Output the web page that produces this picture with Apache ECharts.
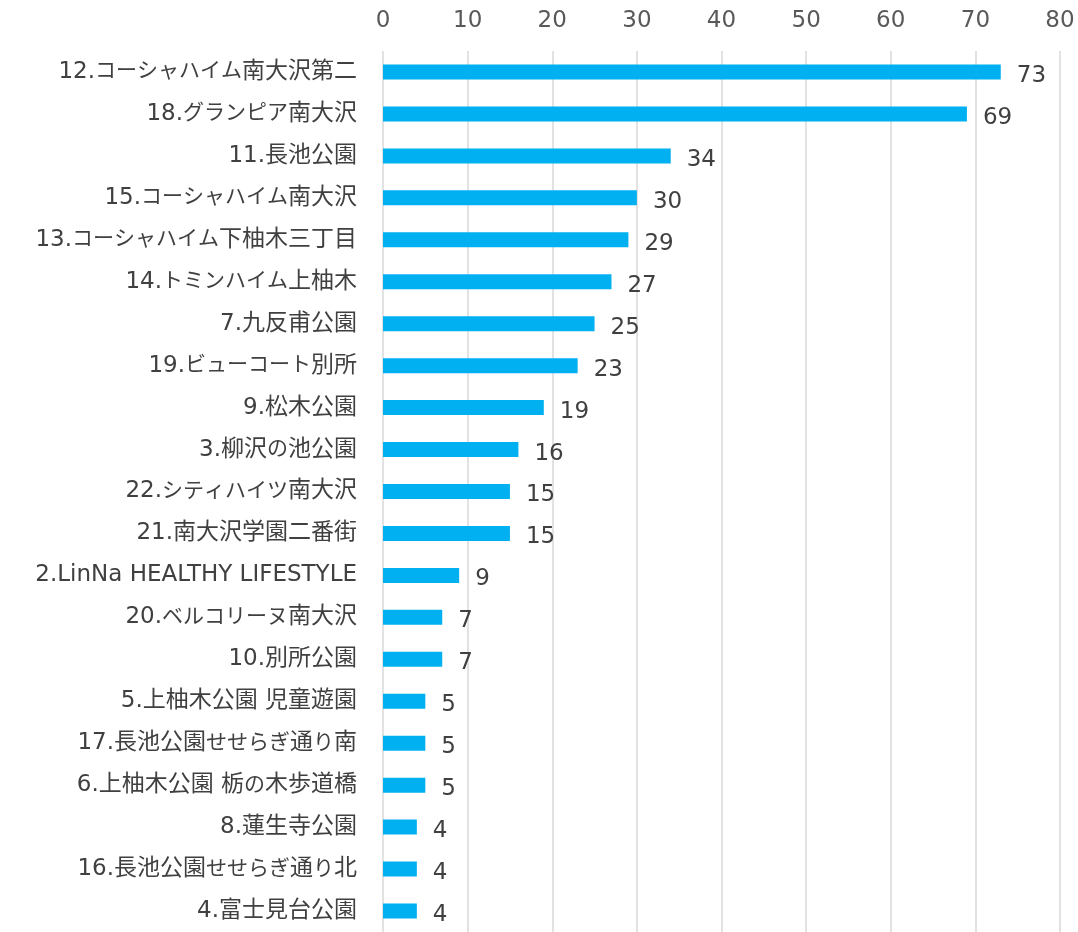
<!DOCTYPE html>
<html lang="ja">
<head>
	<meta charset="UTF-8">
	<title>bar</title>
	<style>
		html, body { margin: 0; padding: 0; background: #fff; }
		#chart { width: 1078px; height: 932px; }
	</style>
</head>
<body>
	<div id="chart"></div>
	<script src="https://cdn.jsdelivr.net/npm/echarts@6/dist/echarts.min.js"></script>
	<script>
		var names = [
			"12.コーシャハイム南大沢第二",
			"18.グランピア南大沢",
			"11.長池公園",
			"15.コーシャハイム南大沢",
			"13.コーシャハイム下柚木三丁目",
			"14.トミンハイム上柚木",
			"7.九反甫公園",
			"19.ビューコート別所",
			"9.松木公園",
			"3.柳沢の池公園",
			"22.シティハイツ南大沢",
			"21.南大沢学園二番街",
			"2.LinNa HEALTHY LIFESTYLE",
			"20.ベルコリーヌ南大沢",
			"10.別所公園",
			"5.上柚木公園 児童遊園",
			"17.長池公園せせらぎ通り南",
			"6.上柚木公園 栃の木歩道橋",
			"8.蓮生寺公園",
			"16.長池公園せせらぎ通り北",
			"4.富士見台公園"
		];
		var counts = [73, 69, 34, 30, 29, 27, 25, 23, 19, 16, 15, 15, 9, 7, 7, 5, 5, 5, 4, 4, 4];

		var font = "DejaVu Sans, 'Noto Sans CJK JP', sans-serif";
		var textColor = "#404040";

		// the original font has narrower kana, so split labels into runs by script
		function charClass(ch) {
			var c = ch.charCodeAt(0);
			if (c < 0x3000) return "a";
			if (c >= 0x3040 && c <= 0x30ff) return "k";
			return "j";
		}
		function splitRuns(s) {
			var out = "", cur = null, buf = "";
			for (var i = 0; i < s.length; i++) {
				var k = charClass(s[i]);
				if (k !== cur && buf) {
					out += "{" + cur + "|" + buf + "}";
					buf = "";
				}
				cur = k;
				buf += s[i];
			}
			if (buf) out += "{" + cur + "|" + buf + "}";
			return out;
		}

		var myChart = echarts.init(document.getElementById("chart"));

		var option = {
			backgroundColor: "#fff",
			animation: false,
			grid: {
				left: 383,
				top: 51,
				width: 677,
				height: 889
			},
			xAxis: {
				type: "value",
				position: "top",
				min: 0,
				max: 80,
				interval: 10,
				axisLine: { show: false },
				axisTick: { show: false },
				axisLabel: {
					color: "#595959",
					fontSize: 23,
					fontFamily: font,
					margin: 18
				},
				splitLine: {
					lineStyle: { color: "#d9d9d9", width: 1.5 }
				}
			},
			yAxis: {
				type: "category",
				inverse: true,
				data: names,
				axisLine: { show: false },
				axisTick: { show: false },
				axisLabel: {
					margin: 26,
					formatter: function (v) { return splitRuns(v); },
					rich: {
						a: { color: textColor, fontSize: 23, fontFamily: font, verticalAlign: "middle" },
						j: { color: textColor, fontSize: 23, fontFamily: font, verticalAlign: "middle" },
						k: { color: textColor, fontSize: 21, fontFamily: font, verticalAlign: "middle" }
					}
				}
			},
			series: [{
				type: "bar",
				data: counts,
				barWidth: 15,
				itemStyle: { color: "#00b0f0" },
				label: {
					show: true,
					position: "right",
					distance: 16,
					offset: [0, 4],
					color: textColor,
					fontSize: 23,
					fontFamily: font
				}
			}]
		};

		myChart.setOption(option);
	</script>
</body>
</html>
